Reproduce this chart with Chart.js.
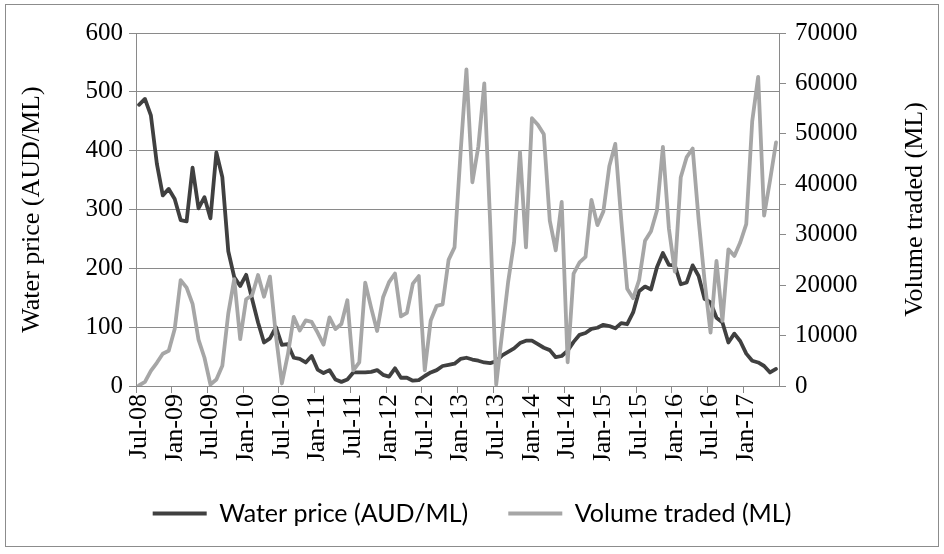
<!DOCTYPE html>
<html>
<head>
<meta charset="utf-8">
<script src="https://cdn.jsdelivr.net/npm/chart.js@4.4.1/dist/chart.umd.min.js"></script>
<style>
  html, body { margin: 0; padding: 0; background: #ffffff; }
  #wrap { width: 944px; height: 554px; position: relative; }
  canvas { display: block; }
</style>
</head>
<body>
<div id="wrap"><canvas id="c" width="944" height="554"></canvas></div>
<script>
// ---- Data ----
const monthNames = ["Jan","Feb","Mar","Apr","May","Jun","Jul","Aug","Sep","Oct","Nov","Dec"];
const startYear = 2008, startMonth = 6;   // Jul-08
const monthCount = 108;                   // Jul-08 .. Jun-17
const categories = [];
for (let k = 0; k < monthCount; k++) {
  const m = (startMonth + k) % 12;
  const y = startYear + Math.floor((startMonth + k) / 12);
  categories.push(monthNames[m] + "-" + String(y % 100).padStart(2, "0"));
}
const tickEvery = 6;

const waterPrice = [
  478,488,460,378,324,335,318,282,280,371,
  302,321,285,397,355,229,185,170,189,148,
  108,74,81,100,70,71,48,46,40,51,
  28,22,27,11,7,11,23,23,23,24,
  27,19,16,30,14,14,9,10,17,23,
  27,34,36,38,46,48,45,43,40,39,
  42,52,58,64,73,77,77,71,65,61,
  49,51,60,75,87,90,97,99,104,102,
  98,107,105,125,161,169,164,202,226,206,
  205,173,176,205,187,148,142,116,108,74,
  89,76,55,43,40,34,23,29
];
const volumeTraded = [
  100,800,3000,4600,6400,7000,11300,21000,19500,16300,
  9200,5600,300,1300,4000,14400,21200,9300,17200,18000,
  22000,17700,21700,10000,500,6200,13700,11000,13000,12700,
  10600,8200,13600,11300,12300,17000,3100,4700,20500,15500,
  10900,17600,20600,22300,13800,14500,20300,21800,3100,13000,
  15900,16200,25000,27500,46000,62800,40400,47500,60000,32000,
  300,10500,20600,28500,46400,27500,53100,51800,49900,32800,
  26900,36500,4700,22300,24500,25600,36900,31900,34600,43600,
  48000,33000,19300,17400,21000,28800,30700,34800,47400,31300,
  22700,41400,45400,47100,33000,20900,10600,24800,12900,27100,
  25800,28500,32100,52500,61300,33800,40800,48300
];
const priceTicks = { min: 0, max: 600, step: 100 };
const volumeTicks = { min: 0, max: 70000, step: 10000 };
const seriesNames = ["Water price (AUD/ML)", "Volume traded (ML)"];
const axisTitles = ["Water price (AUD/ML)", "Volume traded (ML)"];

// ---- Styling ----
const AXIS = "#8a8a8a";
const SERIF = "'Liberation Serif', 'Times New Roman', serif";

const framePlugin = {
  id: "frame",
  beforeDraw(chart) {
    const ctx = chart.ctx;
    ctx.save();
    ctx.fillStyle = "#ffffff";
    ctx.fillRect(0, 0, chart.width, chart.height);
    ctx.strokeStyle = "#8c8c8c";
    ctx.lineWidth = 1;
    ctx.strokeRect(5.5, 4.5, 933, 542);
    ctx.restore();
  },
  afterDraw(chart) {
    const ctx = chart.ctx;
    const a = chart.chartArea;
    ctx.save();
    ctx.fillStyle = "#000000";
    ctx.font = "26px " + SERIF;
    ctx.textAlign = "center";
    ctx.textBaseline = "middle";
    ctx.translate(915, (a.top + a.bottom) / 2);
    ctx.rotate(-Math.PI / 2);
    ctx.fillText(axisTitles[1], 0, 0);
    ctx.restore();
  }
};

new Chart(document.getElementById("c"), {
  type: "line",
  data: {
    labels: categories,
    datasets: [
      {
        label: seriesNames[0],
        data: waterPrice,
        yAxisID: "y",
        borderColor: "#404040",
        backgroundColor: "#404040",
        borderWidth: 3.8,
        pointRadius: 0,
        tension: 0,
        borderJoinStyle: "round",
        borderCapStyle: "round",
        order: 2
      },
      {
        label: seriesNames[1],
        data: volumeTraded,
        yAxisID: "y1",
        borderColor: "#a6a6a6",
        backgroundColor: "#a6a6a6",
        borderWidth: 3.8,
        pointRadius: 0,
        tension: 0,
        borderJoinStyle: "round",
        borderCapStyle: "round",
        order: 1
      }
    ]
  },
  options: {
    responsive: false,
    animation: false,
    devicePixelRatio: 1,
    layout: { padding: { left: 0, right: 0, top: 33, bottom: 18 } },
    plugins: {
      tooltip: { enabled: false },
      legend: {
        position: "bottom",
        labels: {
          font: { family: "Lato, 'Open Sans', sans-serif", size: 25 },
          color: "#000000",
          usePointStyle: true,
          pointStyle: "line",
          pointStyleWidth: 54,
          padding: 40,
          sort: (a, b) => a.datasetIndex - b.datasetIndex
        }
      }
    },
    scales: {
      x: {
        type: "category",
        offset: true,
        afterFit(scale) { scale.height = 75; },
        grid: {
          offset: true,
          drawOnChartArea: false,
          drawTicks: true,
          tickLength: 7,
          tickColor: (ctx) => (ctx.index % tickEvery === 0 ? AXIS : "rgba(0,0,0,0)")
        },
        border: { display: true, color: AXIS, width: 1 },
        ticks: {
          autoSkip: false,
          minRotation: 90,
          maxRotation: 90,
          padding: 1,
          color: "#000000",
          font: { family: SERIF, size: 26 },
          callback: function (value, index) {
            return index % tickEvery === 0 ? categories[index] : "";
          }
        }
      },
      y: {
        position: "left",
        min: priceTicks.min,
        max: priceTicks.max,
        afterFit(scale) { scale.width = 136; },
        grid: { color: AXIS, lineWidth: 1, tickLength: 7, drawTicks: true },
        border: { display: true, color: AXIS, width: 1 },
        ticks: {
          stepSize: priceTicks.step,
          padding: 6,
          color: "#000000",
          font: { family: SERIF, size: 25 }
        },
        title: {
          display: true,
          text: axisTitles[0],
          color: "#000000",
          font: { family: SERIF, size: 26 },
          padding: { top: 17, bottom: 0 }
        }
      },
      y1: {
        position: "right",
        min: volumeTicks.min,
        max: volumeTicks.max,
        afterFit(scale) { scale.width = 165; },
        grid: { drawOnChartArea: false, color: AXIS, tickLength: 7, drawTicks: true },
        border: { display: true, color: AXIS, width: 1 },
        ticks: {
          stepSize: volumeTicks.step,
          padding: 9,
          color: "#000000",
          font: { family: SERIF, size: 25 },
          callback: (v) => String(v)
        }
      }
    }
  },
  plugins: [framePlugin]
});
</script>
</body>
</html>
